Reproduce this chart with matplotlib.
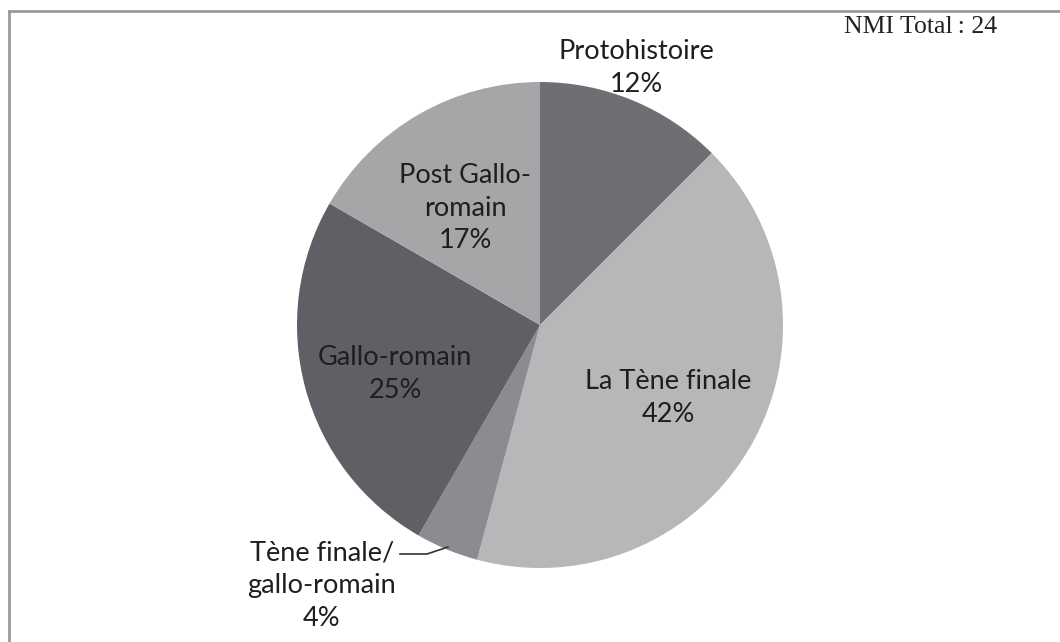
import matplotlib.pyplot as plt
from matplotlib.lines import Line2D

labels = ['Protohistoire', 'La Tène finale', 'Tène finale/\ngallo-romain',
          'Gallo-romain', 'Post Gallo-\nromain']
counts = [3, 10, 1, 6, 4]
percents = ['12%', '42%', '4%', '25%', '17%']
colors = ['#6e6f73', '#b6b7b9', '#8b8c8f', '#5e6065', '#a5a6a8']
total_text = 'NMI Total\u2009: 24'

fig = plt.figure(figsize=(10.6, 6.42), dpi=100)

# frame (top and left edges only)
fig.add_artist(Line2D([8.5 / 1060, 1], [1 - 10.5 / 642] * 2, color='#9a9a9c', lw=2))
fig.add_artist(Line2D([8.5 / 1060] * 2, [0, 1 - 10.5 / 642], color='#9a9a9c', lw=2))

R = 243
cx, cy = 540, 325
ax = fig.add_axes([(cx - R) / 1060, (642 - cy - R) / 642, 2 * R / 1060, 2 * R / 642])
ax.pie(counts, colors=colors, startangle=90, counterclock=False, radius=1,
       wedgeprops=dict(linewidth=0))
ax.set_xlim(-1, 1)
ax.set_ylim(-1, 1)
ax.axis('off')


def px(x, y):
    return (x - cx) / R, (cy - y) / R


pos = [(636, 68), (668, 398), (322, 586), (395, 374), (465, 208)]
for lab, pct, (x, y) in zip(labels, percents, pos):
    dx, dy = px(x, y)
    ax.text(dx, dy, lab + '\n' + pct, ha='center', va='center', fontsize=19.5,
            family='Lato', color='#1e1e1e', linespacing=1.38, clip_on=False)

# leader line for small slice
lx, ly = zip(*[px(400, 554), px(427, 554), px(448, 547)])
ax.plot(lx, ly, color='#333333', lw=1.2, clip_on=False)

fig.text(997 / 1060, 1 - 27 / 642, total_text, ha='right', va='center',
         fontsize=18.5, family='Liberation Serif', color='#222222')

fig.savefig('out.png', dpi=100)
